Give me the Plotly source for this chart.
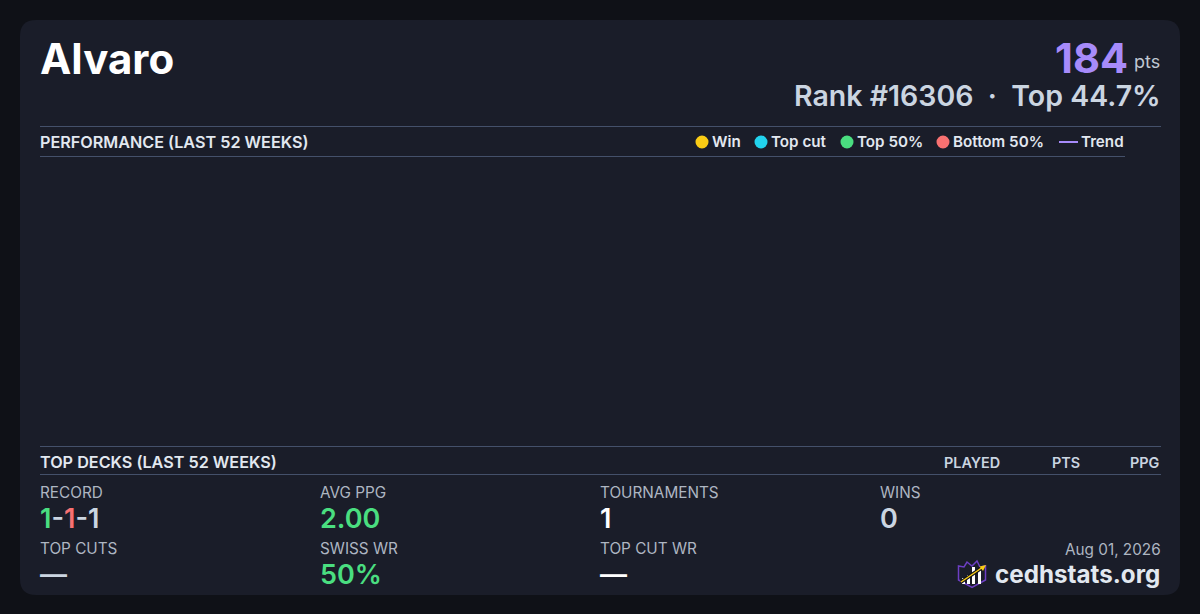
import plotly.graph_objects as go

FONT = "Inter"
PAGE_BG = "#0f1117"
CARD_BG = "#1a1d29"
RULE = "#44506a"
WHITE = "#ffffff"
LIGHT = "#e2e8f0"
GREY = "#cbd5e1"
MUTED = "#aeb6c2"
PURPLE = "#a78bfa"
GREEN = "#4ade80"
RED = "#f87171"

legend_labels = ["Win", "Top cut", "Top 50%", "Bottom 50%"]
legend_colors = ["#facc15", "#22d3ee", "#4ade80", "#f87171"]
legend_x = [702, 761, 847, 943]
stat_labels = ["RECORD", "AVG PPG", "TOURNAMENTS", "WINS", "TOP CUTS", "SWISS WR", "TOP CUT WR"]
stat_values = [
    f'<span style="color:{GREEN}">1</span>-<span style="color:{RED}">1</span>-1',
    "2.00", "1", "0", "—", "50%", "—"]
stat_colors = [GREY, GREEN, WHITE, GREY, GREY, GREEN, WHITE]
stat_x = [40, 320, 600, 880, 40, 320, 600]
stat_label_y = [492, 492, 492, 492, 548, 548, 548]
stat_value_y = [518.5, 518.5, 518.5, 518.5, 574.5, 574.5, 574.5]
deck_cols = ["PLAYED", "PTS", "PPG"]
deck_cols_x = [1000, 1080, 1160]

ann = []
def text(x, y, s, size, color, weight=400, anchor="left"):
    ann.append(dict(x=x, y=y, xref="x", yref="y", text=s, showarrow=False, xanchor=anchor, yanchor="middle",
                    align=anchor, borderpad=0, borderwidth=0,
                    font=dict(family=FONT, size=size, color=color, weight=weight)))

shapes = []
def line(x0, x1, y, color=RULE, w=1):
    shapes.append(dict(type="line", x0=x0, x1=x1, y0=y, y1=y, xref="x", yref="y", line=dict(color=color, width=w)))

# card
shapes.append(dict(type="path", xref="x", yref="y", fillcolor=CARD_BG, line=dict(width=0), layer="below",
    path="M36,20 H1164 Q1180,20 1180,36 V579 Q1180,595 1164,595 H36 Q20,595 20,579 V36 Q20,20 36,20 Z"))

line(40, 1161, 126.5)
line(40, 1125, 156.5)
line(40, 1161, 446.5)
line(40, 1161, 474.5)

text(40, 58, "Alvaro", 42, WHITE, 700)
text(1127.5, 58, "184", 41.5, PURPLE, 700, "right")
text(1160, 61.5, "pts", 18, "#c0c7d2", 400, "right")
text(1160.5, 95.5, "Rank #16306  ·  Top 44.7%", 28.5, GREY, 600, "right")

text(40, 142, "PERFORMANCE (LAST 52 WEEKS)", 16.2, LIGHT, 600)
text(40, 462, "TOP DECKS (LAST 52 WEEKS)", 16.2, LIGHT, 600)
for lab, col, x in zip(legend_labels, legend_colors, legend_x):
    shapes.append(dict(type="circle", xref="x", yref="y", x0=x-6.5, x1=x+6.5, y0=135.5, y1=148.5,
                       fillcolor=col, line=dict(width=0)))
    text(x + 10, 141.5, lab, 15.2, LIGHT, 600)
line(1059, 1078, 142, PURPLE, 2)
text(1081, 141.5, "Trend", 15.2, LIGHT, 600)
for c, x in zip(deck_cols, deck_cols_x):
    text(x, 462, c, 14.4, GREY, 600, "right")
for lab, val, col, x, ly, vy in zip(stat_labels, stat_values, stat_colors, stat_x, stat_label_y, stat_value_y):
    text(x, ly, lab, 15.3, MUTED)
    text(x, vy, val, 27, col, 600)

text(1161, 549.5, "Aug 01, 2026", 15.3, MUTED, 400, "right")
text(1160, 574, "cedhstats.org", 24.2, LIGHT, 700, "right")

# logo
shapes.append(dict(type="path", xref="x", yref="y", line=dict(color="#6d3fc4", width=1.5), fillcolor="rgba(0,0,0,0)",
    path="M958.5,566 L964,567 L967,562 L972,566 L977,561 L980,567 L985.5,566 V580 L972,587.5 L958.5,580 Z"))
for x0, x1, y0 in [(962, 965, 578), (967, 970, 575), (972, 975, 567), (978, 981, 570)]:
    shapes.append(dict(type="rect", xref="x", yref="y", x0=x0, x1=x1, y0=y0, y1=584, fillcolor=WHITE, line=dict(width=0)))
shapes.append(dict(type="line", xref="x", yref="y", x0=961, x1=983, y0=582, y1=567, line=dict(color="#111318", width=3.5)))
shapes.append(dict(type="line", xref="x", yref="y", x0=961, x1=983, y0=582, y1=567, line=dict(color="#facc15", width=1.5)))
shapes.append(dict(type="path", xref="x", yref="y", fillcolor="#facc15", line=dict(width=0),
    path="M986,565 L979.5,566.5 L983,571 Z"))

fig = go.Figure()
fig.update_layout(
    width=1200, height=614, margin=dict(l=0, r=0, t=0, b=0), autosize=False,
    paper_bgcolor=PAGE_BG, plot_bgcolor=PAGE_BG, showlegend=False,
    xaxis=dict(range=[0, 1200], visible=False, fixedrange=True),
    yaxis=dict(range=[614, 0], visible=False, fixedrange=True),
    shapes=shapes, annotations=ann)
fig.write_html("out.html", config={"displayModeBar": False},
               post_script="document.body.style.margin='0';document.body.style.background='%s';" % PAGE_BG)
